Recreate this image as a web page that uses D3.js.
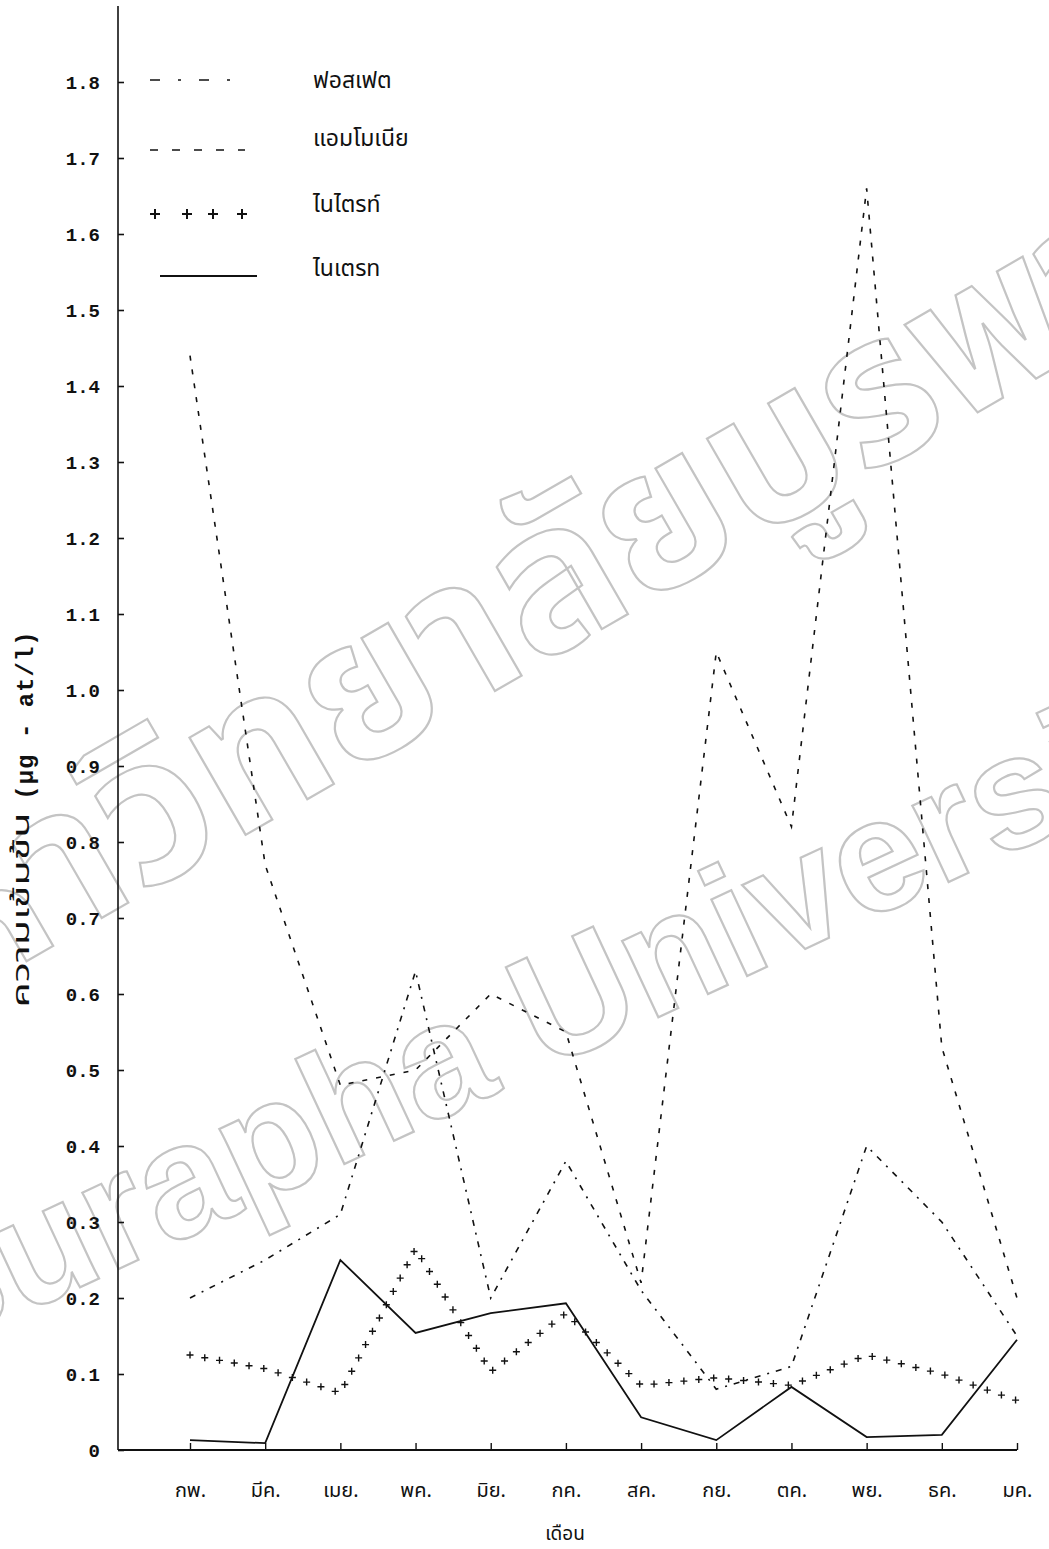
<!DOCTYPE html>
<html><head><meta charset="utf-8">
<script src="https://cdn.jsdelivr.net/npm/d3@7"></script>
<style>body{margin:0;background:#fff}</style>
</head><body>
<svg id="c" width="1049" height="1549"></svg>
<script>
const months = ['กพ.','มีค.','เมย.','พค.','มิย.','กค.','สค.','กย.','ตค.','พย.','ธค.','มค.'];
const phosphate = [0.20,0.25,0.31,0.63,0.20,0.38,0.21,0.08,0.11,0.40,0.30,0.15];
const ammonia   = [1.44,0.77,0.48,0.50,0.60,0.55,0.22,1.05,0.82,1.66,0.53,0.20];
const nitrite   = [0.125,0.107,0.075,0.265,0.103,0.18,0.085,0.095,0.085,0.125,0.10,0.065];
const nitrate   = [0.013,0.009,0.25,0.154,0.18,0.193,0.043,0.013,0.083,0.017,0.02,0.145];
const yTicks = [0,0.1,0.2,0.3,0.4,0.5,0.6,0.7,0.8,0.9,1.0,1.1,1.2,1.3,1.4,1.5,1.6,1.7,1.8];
const yTickLabels = ['0','0.1','0.2','0.3','0.4','0.5','0.6','0.7','0.8','0.9','1.0','1.1','1.2','1.3','1.4','1.5','1.6','1.7','1.8'];
const legendLabels = ['ฟอสเฟต','แอมโมเนีย','ไนไตรท์','ไนเตรท'];
const xTitle = 'เดือน';
const yTitleThai = 'ความเข้มข้น';
const yTitleUnit = '(µg - at/l)';
const watermarkThai = 'มหาวิทยาลัยบูรพา';
const watermarkEng = 'Burapha University';

const svg = d3.select('#c');
const ink = '#111';
const thaiFont = "'Noto Sans Thai','Noto Sans','Loma','Garuda',sans-serif";
const monoFont = "'Liberation Mono','DejaVu Sans Mono',monospace";

// watermark
const wm = svg.append('g').attr('fill','none').attr('stroke','#c4c4c4').attr('stroke-width',2.2);
wm.append('text').attr('transform','translate(500,688) rotate(-30)')
  .attr('text-anchor','middle').attr('font-family',thaiFont).attr('font-size',205).attr('font-weight','bold')
  .text(watermarkThai);
wm.append('text').attr('transform','translate(580,1054) rotate(-25)')
  .attr('text-anchor','middle').attr('font-family',"'Liberation Sans',Arial,sans-serif").attr('font-size',160).attr('font-weight','bold')
  .text(watermarkEng);

const x = d3.scalePoint().domain(months).range([190, 1017]);
const y = d3.scaleLinear().domain([0, 1.8]).range([1450, 82]);

// y axis
const yAxis = d3.axisLeft(y).tickValues(yTicks).tickFormat((d,i)=>yTickLabels[i]).tickSizeInner(-6).tickSizeOuter(0).tickPadding(18);
const gy = svg.append('g').attr('transform','translate(118,0)').call(yAxis);
gy.select('.domain').remove();
gy.append('line').attr('x1',0).attr('x2',0).attr('y1',y(0)).attr('y2',y(1.9)).attr('stroke',ink).attr('stroke-width',1.6);
gy.selectAll('.tick line').attr('stroke',ink).attr('stroke-width',1.6);
gy.selectAll('.tick text').attr('fill',ink).attr('font-family',monoFont).attr('font-size',19).attr('font-weight','bold');

// x axis
const xAxis = d3.axisBottom(x).tickSizeInner(-7).tickSizeOuter(0).tickPadding(40);
const gx = svg.append('g').attr('transform',`translate(0,${y(0)})`).call(xAxis);
gx.select('.domain').remove();
gx.append('line').attr('x1',118).attr('x2',x(months[months.length-1])).attr('y1',0).attr('y2',0).attr('stroke',ink).attr('stroke-width',2);
gx.selectAll('.tick line').attr('stroke',ink).attr('stroke-width',1.4);
gx.selectAll('.tick text').attr('fill',ink).attr('font-family',thaiFont).attr('font-size',20).attr('dy','0.35em');

svg.append('text').attr('x',565).attr('y',1540).attr('text-anchor','middle')
  .attr('font-family',thaiFont).attr('font-size',19).attr('fill',ink).text(xTitle);

svg.append('text').attr('transform','translate(29,910) rotate(-90)').attr('text-anchor','middle').attr('fill',ink)
  .attr('font-family',thaiFont).attr('font-size',23)
  .attr('textLength',195).attr('lengthAdjust','spacingAndGlyphs').text(yTitleThai);
svg.append('text').attr('transform','translate(33,715) rotate(-90)').attr('text-anchor','middle').attr('fill',ink)
  .attr('font-family',monoFont).attr('font-size',24).attr('font-weight','bold').attr('letter-spacing',1)
  .text(yTitleUnit);

// lines
const line = d3.line().x((d,i)=>x(months[i])).y(d=>y(d));
svg.append('path').datum(ammonia).attr('d',line).attr('fill','none').attr('stroke',ink).attr('stroke-width',1.6).attr('stroke-dasharray','5,9');
svg.append('path').datum(phosphate).attr('d',line).attr('fill','none').attr('stroke',ink).attr('stroke-width',1.6).attr('stroke-dasharray','6,7,2,7');
svg.append('path').datum(nitrate).attr('d',line).attr('fill','none').attr('stroke',ink).attr('stroke-width',1.8);

// nitrite: plus marks along path
const plusPath = svg.append('path').datum(nitrite).attr('d',line).attr('fill','none').attr('stroke','none');
const node = plusPath.node();
const L = node.getTotalLength();
const pts = d3.range(0, L+0.1, 15).map(l=>node.getPointAtLength(l));
const plus = (cx,cy,s)=>`M${cx-s},${cy}H${cx+s}M${cx},${cy-s}V${cy+s}`;
svg.append('g').selectAll('path').data(pts).join('path')
  .attr('d',p=>plus(p.x,p.y,3.5)).attr('stroke',ink).attr('stroke-width',1.4);

// legend
const leg = svg.append('g');
const legY = [80,150,214,276];
const textY = [88,146,212,276];
leg.append('line').attr('x1',150).attr('x2',245).attr('y1',legY[0]).attr('y2',legY[0]).attr('stroke',ink).attr('stroke-width',1.6).attr('stroke-dasharray','10,18,3,18');
leg.append('line').attr('x1',150).attr('x2',245).attr('y1',legY[1]).attr('y2',legY[1]).attr('stroke',ink).attr('stroke-width',1.6).attr('stroke-dasharray','8,14');
leg.append('g').selectAll('path').data([155,187,213,242]).join('path')
  .attr('d',d=>plus(d,legY[2],5)).attr('stroke',ink).attr('stroke-width',2);
leg.append('line').attr('x1',160).attr('x2',257).attr('y1',legY[3]).attr('y2',legY[3]).attr('stroke',ink).attr('stroke-width',2);
leg.selectAll('text.l').data(legendLabels).join('text').attr('class','l')
  .attr('x',313).attr('y',(d,i)=>textY[i]).attr('font-family',thaiFont).attr('font-size',23).attr('fill',ink).text(d=>d);
</script>
</body></html>
